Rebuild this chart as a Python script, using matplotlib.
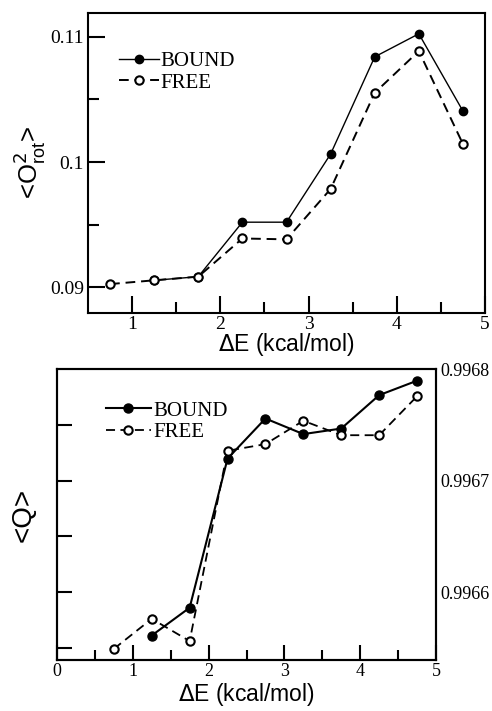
import matplotlib
matplotlib.use("Agg")
import matplotlib.pyplot as plt
from matplotlib.ticker import MultipleLocator, FixedLocator

# Data
dE = [0.75, 1.25, 1.75, 2.25, 2.75, 3.25, 3.75, 4.25, 4.75]
dE_bound = [1.25, 1.75, 2.25, 2.75, 3.25, 3.75, 4.25, 4.75]

o2_bound = [0.09056, 0.09085, 0.0952, 0.0952, 0.10064, 0.1084, 0.11024, 0.10407]
o2_free = [0.09026, 0.09056, 0.09085, 0.0939, 0.09383, 0.09785, 0.10553, 0.10886, 0.10144]

q_bound = [0.996561, 0.996586, 0.996720, 0.996756, 0.996742, 0.996747, 0.996777, 0.996790]
q_free = [0.996549, 0.996576, 0.996556, 0.996727, 0.996733, 0.996754, 0.996741, 0.996741, 0.996776]

top_yticks = [0.09, 0.1, 0.11]
top_yticklabels = ["0.09", "0.1", "0.11"]
bot_right_ticks = [0.9966, 0.9967, 0.9968]
bot_right_labels = ["0.9966", "0.9967", "0.9968"]

serif = "Liberation Serif"
sans = "Liberation Sans"

fig = plt.figure(figsize=(4.92, 7.11), dpi=100)

# ---------- top panel ----------
ax1 = fig.add_axes([88/492, 1-313/711, 397/492, 300/711])
ax1.plot(dE_bound, o2_bound, '-', color='black', lw=1.0, marker='o', ms=6,
         mfc='black', mec='black', label='BOUND', zorder=2)
ax1.plot(dE, o2_free, '--', color='black', lw=1.4, dashes=(5, 3), marker='o', ms=6,
         mfc='white', mec='black', mew=1.5, label='FREE', zorder=3)
ax1.set_xlim(0.5, 5)
ax1.set_ylim(0.08795, 0.1119)
ax1.xaxis.set_major_locator(FixedLocator([1, 2, 3, 4, 5]))
ax1.xaxis.set_minor_locator(FixedLocator([1.5, 2.5, 3.5, 4.5]))
ax1.yaxis.set_major_locator(FixedLocator(top_yticks))
ax1.set_yticklabels(top_yticklabels)
ax1.yaxis.set_minor_locator(FixedLocator([0.095, 0.105]))
ax1.tick_params(axis='both', which='major', direction='in', length=12, width=1.5,
                labelsize=14, top=False, right=False)
ax1.tick_params(axis='both', which='minor', direction='in', length=8, width=1.5,
                top=False, right=False)
ax1.tick_params(axis='x', pad=2)
ax1.tick_params(axis='y', pad=3)
for lab in ax1.get_xticklabels() + ax1.get_yticklabels():
    lab.set_fontfamily(serif)
for s in ax1.spines.values():
    s.set_linewidth(1.5)
ax1.set_xlabel(r"$\Delta$E (kcal/mol)", fontsize=16.5, fontfamily=sans, labelpad=-1)
ax1.set_ylabel(r"<O$^2_{\mathregular{rot}}$>", fontsize=18.5, fontfamily=sans, labelpad=2)
ax1.legend(loc='upper left', bbox_to_anchor=(0.078, 0.872), frameon=False,
           prop={'family': serif, 'size': 15}, handlelength=1.9, handletextpad=0.1,
           labelspacing=0.1, borderpad=0, borderaxespad=0)

# ---------- bottom panel ----------
ax2 = fig.add_axes([57/492, 1-660/711, 379/492, 291/711])
ax2.plot(dE_bound, q_bound, '-', color='black', lw=1.5, marker='o', ms=6.5,
         mfc='black', mec='black', label='BOUND', zorder=2)
ax2.plot(dE, q_free, '--', color='black', lw=1.3, dashes=(5, 3), marker='o', ms=6,
         mfc='white', mec='black', mew=1.5, label='FREE', zorder=3)
ax2.set_xlim(0, 5)
ax2.set_ylim(0.996539, 0.9968005)
ax2.xaxis.set_major_locator(MultipleLocator(1))
ax2.xaxis.set_minor_locator(MultipleLocator(0.5))
ax2.yaxis.set_major_locator(FixedLocator([0.99655, 0.9966, 0.99665, 0.9967, 0.99675]))
ax2.tick_params(axis='y', which='major', direction='in', length=11, width=1.5,
                labelleft=False, right=False)
ax2.tick_params(axis='x', which='major', direction='in', length=11, width=1.5,
                labelsize=13, top=False, pad=2)
ax2.tick_params(axis='x', which='minor', direction='in', length=7, width=1.5, top=False)
for lab in ax2.get_xticklabels():
    lab.set_fontfamily(serif)
for s in ax2.spines.values():
    s.set_linewidth(1.5)
ax2.set_xlabel(r"$\Delta$E (kcal/mol)", fontsize=16.5, fontfamily=sans, labelpad=1)
ax2.set_ylabel("<Q>", fontsize=20, fontfamily=sans, labelpad=15)
ax2.legend(loc='upper left', bbox_to_anchor=(0.128, 0.89), frameon=False,
           prop={'family': serif, 'size': 15}, handlelength=2.2, handletextpad=0.1,
           labelspacing=0.1, borderpad=0, borderaxespad=0)

ax2r = ax2.twinx()
ax2r.set_ylim(ax2.get_ylim())
ax2r.yaxis.set_major_locator(FixedLocator(bot_right_ticks))
ax2r.set_yticklabels(bot_right_labels)
ax2r.tick_params(axis='y', length=0, pad=3, labelsize=13)
for lab in ax2r.get_yticklabels():
    lab.set_fontfamily(serif)
for s in ax2r.spines.values():
    s.set_linewidth(1.5)

fig.savefig("out.png", dpi=100)
